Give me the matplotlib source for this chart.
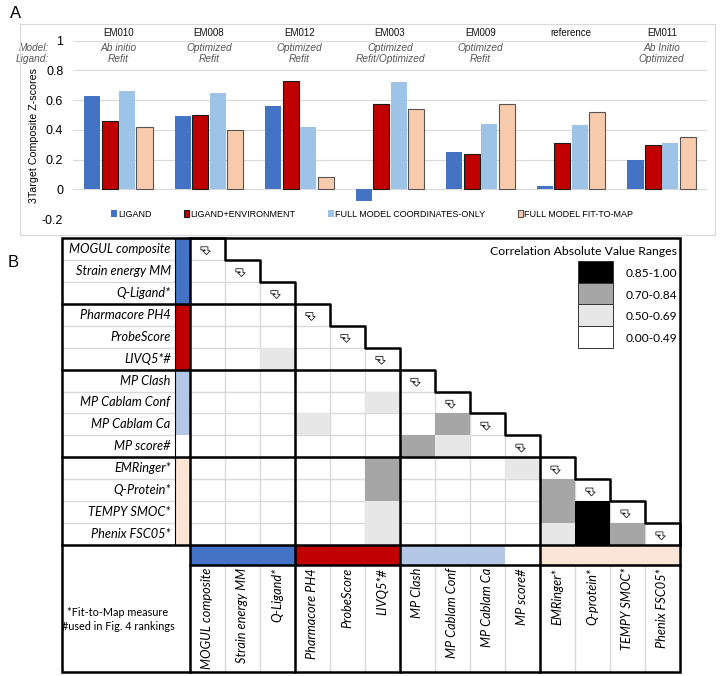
import matplotlib
matplotlib.use("Agg")
import matplotlib.pyplot as plt
import numpy as np
from matplotlib.colors import ListedColormap
from matplotlib.patches import Rectangle, Polygon

# ---- panel A data ----
targets = ["EM010", "EM008", "EM012", "EM003", "EM009", "reference", "EM011"]
model_types = ["Ab initio", "Optimized", "Optimized", "Optimized", "Optimized", "", "Ab Initio"]
ligand_types = ["Refit", "Refit", "Refit", "Refit/Optimized", "Refit", "", "Optimized"]
series_names = ["LIGAND", "LIGAND+ENVIRONMENT", "FULL MODEL COORDINATES-ONLY", "FULL MODEL FIT-TO-MAP"]
ligand = [0.63, 0.49, 0.56, -0.08, 0.25, 0.02, 0.20]
ligand_env = [0.46, 0.50, 0.73, 0.57, 0.24, 0.31, 0.30]
coords_only = [0.66, 0.65, 0.42, 0.72, 0.44, 0.43, 0.31]
fit_to_map = [0.42, 0.40, 0.08, 0.54, 0.57, 0.52, 0.35]
bar_colors = ["#4472C4", "#C00000", "#9DC3E6", "#F8CBAD"]
bar_edges = [None, "#1a1a1a", None, "#555555"]
yticks = [-0.2, 0, 0.2, 0.4, 0.6, 0.8, 1.0]
ytick_labels = ["-0.2", "0", "0.2", "0.4", "0.6", "0.8", "1"]

# ---- panel B data ----
row_measures = ["MOGUL composite", "Strain energy MM", "Q-Ligand*", "Pharmacore PH4",
                "ProbeScore", "LIVQ5*#", "MP Clash", "MP Cablam Conf", "MP Cablam Ca",
                "MP score#", "EMRinger*", "Q-Protein*", "TEMPY SMOC*", "Phenix FSC05*"]
col_measures = ["MOGUL composite", "Strain energy MM", "Q-Ligand*", "Pharmacore PH4",
                "ProbeScore", "LIVQ5*#", "MP Clash", "MP Cablam Conf", "MP Cablam Ca",
                "MP score#", "EMRinger*", "Q-protein*", "TEMPY SMOC*", "Phenix FSC05*"]
measure_group = [0, 0, 0, 1, 1, 1, 2, 2, 2, 3, 4, 4, 4, 4]
group_colors = ["#4472C4", "#C00000", "#B4C7E7", "#FFFFFF", "#FBE5D6"]
group_starts = [3, 6, 10]
level_names = ["0.00-0.49", "0.50-0.69", "0.70-0.84", "0.85-1.00"]
level_colors = ["#FFFFFF", "#E7E7E7", "#A6A6A6", "#000000"]
# shade bin of |r| below the diagonal (0..3), row by row
corr_bins = [
    [],
    [0],
    [0, 0],
    [0, 0, 0],
    [0, 0, 0, 0],
    [0, 0, 1, 0, 0],
    [0, 0, 0, 0, 0, 0],
    [0, 0, 0, 0, 0, 1, 0],
    [0, 0, 0, 1, 0, 0, 0, 2],
    [0, 0, 0, 0, 0, 0, 2, 1, 0],
    [0, 0, 0, 0, 0, 2, 0, 0, 0, 1],
    [0, 0, 0, 0, 0, 2, 0, 0, 0, 0, 2],
    [0, 0, 0, 0, 0, 1, 0, 0, 0, 0, 2, 3],
    [0, 0, 0, 0, 0, 1, 0, 0, 0, 0, 1, 3, 2],
]

W, H = 720, 676
fig = plt.figure(figsize=(7.2, 6.76), dpi=100)


def frect(x0, y0, x1, y1):
    return [x0 / W, 1 - y1 / H, (x1 - x0) / W, (y1 - y0) / H]


sans = "Liberation Sans"
lato = "Lato"

# ---------------- panel A ----------------
fig.add_artist(Rectangle((20 / W, 1 - 235 / H), 695 / W, 211 / H, transform=fig.transFigure,
                         fill=False, ec="#d9d9d9", lw=0.8))
fig.text(10 / W, 1 - 14 / H, "A", fontsize=12, family=sans, va="center")
fig.text(8 / W, 1 - 263 / H, "B", fontsize=12, family=sans, va="center")

axA = fig.add_axes(frect(73, 40.5, 707, 219))
x = np.arange(len(targets))
series = [ligand, ligand_env, coords_only, fit_to_map]
for k, vals in enumerate(series):
    edge = bar_edges[k]
    axA.bar(x + (k - 1.5) * 0.193, vals, width=0.177, color=bar_colors[k],
            edgecolor=edge if edge else bar_colors[k], linewidth=0.8 if edge else 0,
            label=series_names[k], zorder=2)
axA.set_xlim(-0.5, 6.5)
axA.set_ylim(-0.2, 1.0)
axA.set_yticks(yticks)
axA.set_yticklabels(ytick_labels, family=sans, fontsize=9)
axA.set_xticks([])
axA.tick_params(axis="y", length=0, pad=7)
axA.yaxis.grid(True, color="#d9d9d9", lw=0.8)
axA.set_axisbelow(True)
for s in axA.spines.values():
    s.set_visible(False)
axA.set_ylabel("3Target Composite Z-scores", family=sans, fontsize=7.7)
axA.yaxis.set_label_coords(-0.053, 0.47)

for i, t in enumerate(targets):
    axA.text(i, 1.05, t, ha="center", va="center", family=sans, fontsize=7, color="#111111")
    axA.text(i, 0.95, model_types[i], ha="center", va="center", family=sans,
             style="italic", fontsize=7.3, color="#555555")
    axA.text(i, 0.874, ligand_types[i], ha="center", va="center", family=sans,
             style="italic", fontsize=7.3, color="#555555")
axA.text(-0.765, 0.95, "Model:", ha="right", va="center", family=sans, style="italic",
         fontsize=7.3, color="#555555", clip_on=False)
axA.text(-0.765, 0.878, "Ligand:", ha="right", va="center", family=sans, style="italic",
         fontsize=7.3, color="#555555", clip_on=False)

axA.legend(ncol=4, loc="center", bbox_to_anchor=(0.472, 0.027), frameon=False,
           prop={"family": sans, "size": 6.5}, handlelength=0.6, handleheight=0.7,
           handletextpad=0.15, columnspacing=3.6, borderpad=0)

# ---------------- panel B ----------------
n = len(row_measures)
x_lab, x_strip = -3.657, -0.43
y_mat, y_strip, y_bot = n, n + 0.92, 19.79

axB = fig.add_axes(frect(62, 238, 680, 672))
axB.set_xlim(x_lab, n)
axB.set_ylim(y_bot, 0)
axB.axis("off")

grey = "#d9d9d9"
for c in range(1, n):
    axB.plot([c, c], [c, y_bot], color=grey, lw=1.0, zorder=1)
for r in range(1, n):
    axB.plot([x_lab, r], [r, r], color=grey, lw=1.0, zorder=1)

levels = np.zeros((n, n))
for i, row in enumerate(corr_bins):
    for j, v in enumerate(row):
        levels[i, j] = v
mask = np.tril(np.ones((n, n)), -1) == 0
levels = np.ma.masked_where(mask | (levels == 0), levels)
axB.pcolormesh(np.arange(n + 1), np.arange(n + 1), levels, cmap=ListedColormap(level_colors),
               vmin=-0.5, vmax=3.5, zorder=2)

# category strips
for i, g in enumerate(measure_group):
    axB.add_patch(Rectangle((x_strip, i), -x_strip, 1, fc=group_colors[g], ec="none", zorder=2))
    axB.add_patch(Rectangle((i, y_mat), 1, y_strip - y_mat, fc=group_colors[g], ec="none", zorder=2))

# diagonal markers
glyph = np.array([(0, 0), (0.75, 0), (0.75, 0.5), (1.0, 0.5), (0.6, 1.0), (0.2, 0.5),
                  (0.45, 0.5), (0.45, 0.4), (0, 0.4)])
for i in range(n):
    pts = np.column_stack([i + 0.31 + glyph[:, 0] * 0.27, i + 0.40 + glyph[:, 1] * 0.36])
    axB.add_patch(Polygon(pts, closed=True, fc="white", ec="#222222", lw=0.6, zorder=3))

# thick lines
blk = dict(color="black", lw=1.8, zorder=5, solid_capstyle="projecting", clip_on=False)
sx, sy = [0], [0]
for i in range(n):
    sx += [i + 1, i + 1]
    sy += [i, i + 1]
axB.plot(sx, sy, **blk)
for b in group_starts:
    axB.plot([x_lab, b], [b, b], **blk)
    axB.plot([b, b], [b, y_bot], **blk)
axB.plot([x_lab, n], [y_mat, y_mat], **blk)
axB.plot([0, n], [y_strip, y_strip], **blk)
axB.plot([0, 0], [0, y_bot], **blk)
axB.plot([x_strip, x_strip], [0, y_mat], color="black", lw=0.8, zorder=4)
axB.add_patch(Rectangle((x_lab, 0), n - x_lab, y_bot, fill=False, ec="black", lw=1.8,
                        zorder=5, clip_on=False))

# labels
for i, name in enumerate(row_measures):
    axB.text(-0.55, i + 0.5, name, ha="right", va="center", family=lato, style="italic",
             fontsize=9.2)
for j, name in enumerate(col_measures):
    axB.text(j + 0.5, 15.05, name, ha="right", va="center", rotation=90,
             rotation_mode="anchor", family=lato, style="italic", fontsize=9.2)
axB.text(-2.06, 17.4, "*Fit-to-Map measure\n#used in Fig. 4 rankings", ha="center",
         va="center", family=lato, fontsize=7.8, linespacing=1.4)

# shade key
axB.text(13.91, 0.6, "Correlation Absolute Value Ranges", ha="right", va="center",
         family=lato, fontsize=8.8)
for k in range(len(level_names)):
    lv = len(level_names) - 1 - k
    axB.add_patch(Rectangle((11.09, 1.03 + k), 1.0, 1.0, fc=level_colors[lv], ec="#333333",
                            lw=0.7, zorder=3))
    axB.text(12.45, 1.6 + k, level_names[lv], ha="left", va="center", family=lato,
             fontsize=8.6)

fig.savefig("out.png", dpi=100)
